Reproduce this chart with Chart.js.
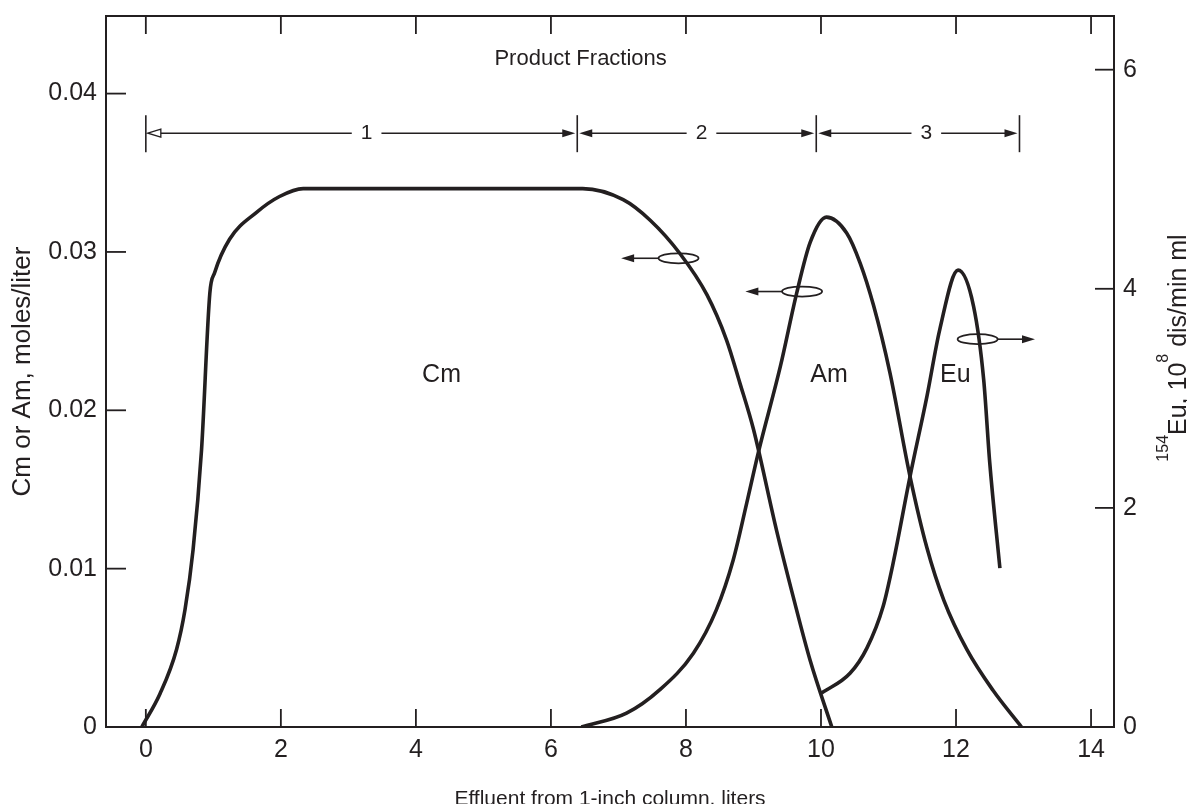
<!DOCTYPE html>
<html>
<head>
<meta charset="utf-8">
<script src="https://cdn.jsdelivr.net/npm/chart.js@4.4.1/dist/chart.umd.min.js"></script>
<style>
  html, body { margin: 0; padding: 0; background: #fff; }
  #wrap { width: 1187px; height: 804px; }
</style>
</head>
<body>
<div id="wrap"><canvas id="myChart"></canvas></div>
<script>
// effluent volume (liters) vs concentration
const cmX = [-0.06, 0.21, 0.455, 0.58, 0.70, 0.825, 0.948, 1.02, 1.24, 1.64, 1.98, 2.33, 4.0, 6.47, 7.07, 7.47, 7.91, 8.31, 8.6, 8.8, 9.0, 9.34, 9.59, 9.84, 10.16];
const cmY = [0, 0.0021, 0.0049, 0.0074, 0.0112, 0.0175, 0.0274, 0.0287, 0.0308, 0.0325, 0.0335, 0.0340, 0.0340, 0.0340, 0.0333, 0.0320, 0.0299, 0.0273, 0.02445, 0.0217, 0.0188, 0.01245, 0.0082, 0.0042, 0];

const amX = [6.45, 7.12, 7.61, 8.11, 8.45, 8.7, 8.9, 9.07, 9.4, 9.64, 9.84, 10.08, 10.38, 10.58, 10.78, 11.02, 11.32, 11.57, 11.82, 12.16, 12.55, 12.97];
const amY = [0, 0.00087, 0.00234, 0.00466, 0.0074, 0.01055, 0.01414, 0.0173, 0.0228, 0.0274, 0.0306, 0.0322, 0.0312, 0.0293, 0.0266, 0.0224, 0.0158, 0.0113, 0.0080, 0.0049, 0.0023, 0];

// 154Eu activity, 10^8 dis/min ml (right axis)
const euX = [10.01, 10.43, 10.68, 10.92, 11.07, 11.32, 11.57, 11.76, 12.03, 12.26, 12.41, 12.5, 12.65];
const euY = [0.31, 0.49, 0.72, 1.10, 1.50, 2.29, 3.02, 3.63, 4.17, 3.84, 3.17, 2.41, 1.45];

const xTicks = [0, 2, 4, 6, 8, 10, 12, 14];
const yTicks = [0, 0.01, 0.02, 0.03, 0.04];
const y2Ticks = [0, 2, 4, 6];

// product fraction cut points (liters)
const fractionBounds = [0, 6.39, 9.93, 12.94];
const fractionNames = ['1', '2', '3'];
const fractionLabelX = [3.27, 8.23, 11.56];
const fractionY = 0.0375;

const curveNames = ['Cm', 'Am', 'Eu'];
const curveLabelX = [4.38, 10.12, 11.99];
const curveLabelY = [0.0222, 0.0222, 0.0222];

// little ellipses with arrows telling which axis a curve uses
const markerX = [7.89, 9.72, 12.32];
const markerY = [0.0296, 0.0275, 3.54];
const markerAxis = ['y', 'y', 'y2'];
const markerArrowTo = [7.04, 8.88, 13.17];

const ink = '#231f20';
const fontFam = '"Liberation Sans", Arial, Helvetica, sans-serif';

function toPoints(xs, ys) {
    return xs.map((x, i) => ({x: x, y: ys[i]}));
}

function line(ctx, x1, y1, x2, y2) {
    ctx.beginPath();
    ctx.moveTo(x1, y1);
    ctx.lineTo(x2, y2);
    ctx.stroke();
}

function arrowHead(ctx, x, y, dir, open) {
    ctx.beginPath();
    ctx.moveTo(x, y);
    ctx.lineTo(x - dir * 13, y - 4);
    ctx.lineTo(x - dir * 13, y + 4);
    ctx.closePath();
    if (open) {
        ctx.fillStyle = '#fff';
        ctx.fill();
        ctx.stroke();
    } else {
        ctx.fillStyle = ink;
        ctx.fill();
    }
}

const extras = {
    id: 'extras',
    afterDatasetsDraw(chart) {
        const ctx = chart.ctx;
        const a = chart.chartArea;
        const sx = chart.scales.x, sy = chart.scales.y, sy2 = chart.scales.y2;
        ctx.save();
        ctx.strokeStyle = ink;
        ctx.fillStyle = ink;

        // frame
        ctx.lineWidth = 2;
        ctx.strokeRect(a.left, a.top, a.right - a.left, a.bottom - a.top);

        // inward tick marks
        ctx.lineWidth = 1.8;
        xTicks.forEach(v => {
            const px = sx.getPixelForValue(v);
            line(ctx, px, a.bottom, px, a.bottom - 18);
            line(ctx, px, a.top, px, a.top + 18);
        });
        yTicks.forEach(v => {
            if (v === 0) return;
            const py = sy.getPixelForValue(v);
            line(ctx, a.left, py, a.left + 20, py);
        });
        y2Ticks.forEach(v => {
            if (v === 0) return;
            const py = sy2.getPixelForValue(v);
            line(ctx, a.right, py, a.right - 19, py);
        });

        // product fraction bars
        const fy = sy.getPixelForValue(fractionY);
        ctx.lineWidth = 1.6;
        fractionBounds.forEach(b => {
            const px = sx.getPixelForValue(b);
            line(ctx, px, fy - 18, px, fy + 19);
        });
        ctx.font = '21px ' + fontFam;
        ctx.textAlign = 'center';
        ctx.textBaseline = 'middle';
        for (let i = 0; i < fractionNames.length; i++) {
            const x1 = sx.getPixelForValue(fractionBounds[i]) + 2;
            const x2 = sx.getPixelForValue(fractionBounds[i + 1]) - 2;
            const lx = sx.getPixelForValue(fractionLabelX[i]);
            const half = ctx.measureText(fractionNames[i]).width / 2 + 9;
            ctx.fillStyle = ink;
            ctx.fillText(fractionNames[i], lx, fy);
            line(ctx, x1 + 6, fy, lx - half, fy);
            line(ctx, lx + half, fy, x2 - 6, fy);
            ctx.lineWidth = 1.3;
            arrowHead(ctx, x1, fy, -1, i === 0);
            arrowHead(ctx, x2, fy, 1, false);
            ctx.lineWidth = 1.6;
        }

        ctx.fillStyle = ink;
        ctx.font = '22px ' + fontFam;
        ctx.fillText('Product Fractions', sx.getPixelForValue(6.44), sy.getPixelForValue(0.0422));

        // curve names
        ctx.font = '25px ' + fontFam;
        curveNames.forEach((n, i) => {
            ctx.fillText(n, sx.getPixelForValue(curveLabelX[i]), sy.getPixelForValue(curveLabelY[i]));
        });

        // axis markers
        markerX.forEach((mx, i) => {
            const cx = sx.getPixelForValue(mx);
            const cy = chart.scales[markerAxis[i]].getPixelForValue(markerY[i]);
            const tip = sx.getPixelForValue(markerArrowTo[i]);
            const dir = tip < cx ? -1 : 1;
            ctx.lineWidth = 1.8;
            ctx.beginPath();
            ctx.ellipse(cx, cy, 20, 5, 0, 0, Math.PI * 2);
            ctx.stroke();
            ctx.lineWidth = 1.6;
            line(ctx, cx + dir * 20, cy, tip - dir * 8, cy);
            arrowHead(ctx, tip, cy, dir, false);
        });

        // axis titles
        ctx.fillStyle = ink;
        ctx.save();
        ctx.translate(23, (a.top + a.bottom) / 2);
        ctx.rotate(-Math.PI / 2);
        ctx.font = '26px ' + fontFam;
        ctx.textBaseline = 'middle';
        ctx.fillText('Cm or Am, moles/liter', 0, 0);
        ctx.restore();

        ctx.save();
        ctx.translate(1177, 348);
        ctx.rotate(-Math.PI / 2);
        ctx.textAlign = 'left';
        ctx.textBaseline = 'alphabetic';
        const parts = [['154', true], ['Eu, 10', false], ['8', true], [' dis/min ml', false]];
        let total = 0;
        parts.forEach(p => {
            ctx.font = (p[1] ? '16px ' : '25px ') + fontFam;
            total += ctx.measureText(p[0]).width;
        });
        let tx = -total / 2;
        parts.forEach(p => {
            ctx.font = (p[1] ? '16px ' : '25px ') + fontFam;
            ctx.fillText(p[0], tx, p[1] ? -9 : 9);
            tx += ctx.measureText(p[0]).width;
        });
        ctx.restore();

        ctx.font = '21px ' + fontFam;
        ctx.textAlign = 'center';
        ctx.textBaseline = 'alphabetic';
        ctx.fillText('Effluent from 1-inch column, liters', (a.left + a.right) / 2, 805);

        ctx.restore();
    }
};

const curveStyle = {
    borderColor: ink,
    borderWidth: 3.6,
    pointRadius: 0,
    fill: false,
    cubicInterpolationMode: 'monotone'
};

function noPad(s) {
    s.paddingTop = 0;
    s.paddingBottom = 0;
    s.paddingLeft = 0;
    s.paddingRight = 0;
}

let ctx = document.getElementById('myChart').getContext('2d');
let myLineChart = new Chart(ctx, {
    type: 'line',
    data: {
        datasets: [
            Object.assign({label: 'Cm', data: toPoints(cmX, cmY), yAxisID: 'y'}, curveStyle),
            Object.assign({label: 'Am', data: toPoints(amX, amY), yAxisID: 'y'}, curveStyle),
            Object.assign({label: 'Eu', data: toPoints(euX, euY), yAxisID: 'y2'}, curveStyle)
        ]
    },
    options: {
        responsive: true,
        maintainAspectRatio: false,
        animation: false,
        layout: {padding: {top: 16, left: 0, right: 0, bottom: 0}},
        plugins: {legend: {display: false}, tooltip: {enabled: false}},
        scales: {
            x: {
                type: 'linear',
                position: 'bottom',
                min: -0.59,
                max: 14.34,
                grid: {display: false, drawTicks: false},
                border: {display: false},
                afterBuildTicks: s => { s.ticks = xTicks.map(v => ({value: v})); },
                afterFit: s => { s.height = 77; noPad(s); },
                ticks: {color: ink, padding: 8, font: {family: fontFam, size: 25}, maxRotation: 0}
            },
            y: {
                type: 'linear',
                position: 'left',
                min: 0,
                max: 0.0449,
                grid: {display: false, drawTicks: false},
                border: {display: false},
                afterBuildTicks: s => { s.ticks = yTicks.map(v => ({value: v})); },
                afterFit: s => { s.width = 106; noPad(s); },
                ticks: {
                    color: ink, padding: 9, font: {family: fontFam, size: 25},
                    callback: v => v === 0 ? '0' : v.toFixed(2)
                }
            },
            y2: {
                type: 'linear',
                position: 'right',
                min: 0,
                max: 6.49,
                grid: {display: false, drawTicks: false},
                border: {display: false},
                afterBuildTicks: s => { s.ticks = y2Ticks.map(v => ({value: v})); },
                afterFit: s => { s.width = 73; noPad(s); },
                ticks: {color: ink, padding: 9, font: {family: fontFam, size: 25}}
            }
        }
    },
    plugins: [extras]
});
</script>
</body>
</html>
